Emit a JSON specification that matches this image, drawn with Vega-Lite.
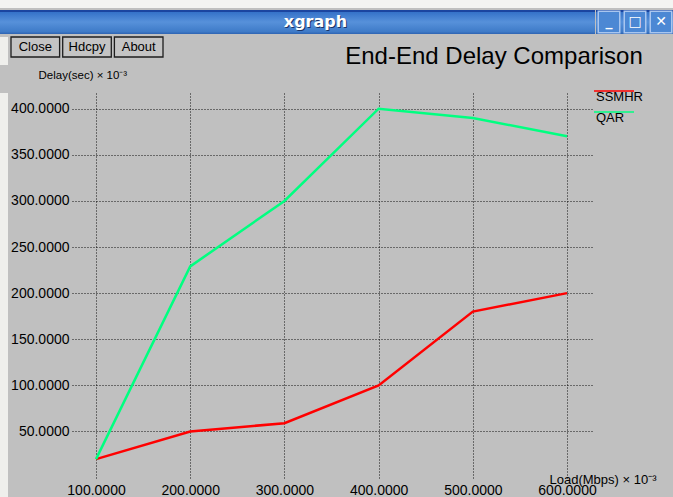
{
  "$schema": "https://vega.github.io/schema/vega-lite/v6.json",
  "background": "#c0c0c0",
  "padding": 0,
  "spacing": 0,
  "config": {
    "view": {"stroke": null},
    "font": "Liberation Sans",
    "concat": {"spacing": 0},
    "axis": {"labelFont": "Liberation Sans", "titleFont": "Liberation Sans", "titleFontWeight": "normal", "labelColor": "#000", "titleColor": "#000"}
  },
  "vconcat": [
    {
      "width": 673, "height": 8,
      "view": {"fill": "#f4f4f2", "stroke": null},
      "data": {"values": [{"k": 1}]},
      "mark": {"type": "rect", "fill": "#f4f4f2"},
      "encoding": {}
    },
    {
      "spacing": 0,
      "hconcat": [
        {
          "width": 595, "height": 24,
          "data": {"values": [{"label": "xgraph"}]},
          "layer": [
            {
              "mark": {"type": "rect", "color": {"gradient": "linear", "x1": 0, "y1": 0, "x2": 0, "y2": 1,
                "stops": [{"offset": 0, "color": "#1b45a0"}, {"offset": 0.07, "color": "#1b45a0"}, {"offset": 0.1, "color": "#3673c9"}, {"offset": 0.5, "color": "#5791da"}, {"offset": 0.9, "color": "#3f7bc8"}, {"offset": 1, "color": "#2d63b2"}]}},
              "encoding": {}
            },
            {
              "mark": {"type": "text", "font": "DejaVu Sans", "fontWeight": "bold", "fontSize": 16, "color": "#1a3468", "dx": 19, "dy": 1},
              "encoding": {"text": {"field": "label"}}
            },
            {
              "mark": {"type": "text", "font": "DejaVu Sans", "fontWeight": "bold", "fontSize": 16, "color": "#ffffff", "dx": 18},
              "encoding": {"text": {"field": "label"}}
            }
          ]
        },
        {
          "width": 78, "height": 24,
          "data": {"values": [{"icon": "min", "g": "_"}, {"icon": "max", "g": "□"}, {"icon": "close", "g": "✕"}]},
          "layer": [
            {
              "mark": {"type": "rect", "color": {"gradient": "linear", "x1": 0, "y1": 0, "x2": 0, "y2": 1,
                "stops": [{"offset": 0, "color": "#1b45a0"}, {"offset": 0.07, "color": "#1b45a0"}, {"offset": 0.1, "color": "#3673c9"}, {"offset": 0.5, "color": "#5791da"}, {"offset": 0.9, "color": "#3f7bc8"}, {"offset": 1, "color": "#2d63b2"}]}},
              "encoding": {}
            },
            {
              "mark": {"type": "square", "size": 462, "fill": "#4c88d4", "stroke": "#a9c6ef", "strokeWidth": 1.5, "opacity": 1},
              "encoding": {"x": {"field": "icon", "type": "nominal", "sort": null, "scale": {"paddingInner": 0.08, "paddingOuter": 0.04}, "axis": null}}
            },
            {
              "mark": {"type": "text", "font": "DejaVu Sans", "fontWeight": "bold", "fontSize": 14, "color": "#ffffff"},
              "encoding": {"x": {"field": "icon", "type": "nominal", "sort": null, "axis": null}, "text": {"field": "g"}}
            }
          ]
        }
      ]
    },
    {
      "spacing": 2,
      "hconcat": [
        {
          "width": 8, "height": 28,
          "view": {"fill": "#efefec", "stroke": null},
          "data": {"values": [{"k": 1}]},
          "mark": {"type": "rect", "fill": "#efefec"},
          "encoding": {}
        },
        {
          "width": 152, "height": 20,
          "data": {"values": [{"b": "Close"}, {"b": "Hdcpy"}, {"b": "About"}]},
          "layer": [
            {
              "mark": {"type": "rect", "fill": "#c4c4c4", "stroke": "#1e1e1e", "strokeWidth": 1.3},
              "encoding": {
                "x": {"field": "b", "type": "nominal", "sort": null, "scale": {"paddingInner": 0.06, "paddingOuter": 0}, "axis": null},
                "y": {"datum": "row", "type": "nominal", "scale": {"paddingInner": 0, "paddingOuter": 0}, "axis": null}
              }
            },
            {
              "mark": {"type": "text", "fontSize": 13, "color": "#000"},
              "encoding": {
                "x": {"field": "b", "type": "nominal", "sort": null, "axis": null},
                "y": {"datum": "row", "type": "nominal", "axis": null},
                "text": {"field": "b"}
              }
            }
          ]
        },
        {
          "width": 509, "height": 28,
          "data": {"values": [{"t": "End-End Delay Comparison"}]},
          "mark": {"type": "text", "fontSize": 24, "color": "#000", "dx": 73.5, "dy": 6},
          "encoding": {"text": {"field": "t"}}
        }
      ]
    },
    {
      "spacing": 2,
      "hconcat": [
        {
          "width": 8, "height": 436,
          "view": {"fill": "#efefec", "stroke": null},
          "data": {"values": [{"k": 1}]},
          "mark": {"type": "rect", "fill": "#efefec"},
          "encoding": {}
        },
        {
          "width": 520, "height": 386,
          "data": {"values": [
            {"load": 100, "delay": 20, "protocol": "SSMHR"},
            {"load": 200, "delay": 50, "protocol": "SSMHR"},
            {"load": 300, "delay": 59, "protocol": "SSMHR"},
            {"load": 400, "delay": 100, "protocol": "SSMHR"},
            {"load": 500, "delay": 180, "protocol": "SSMHR"},
            {"load": 600, "delay": 200, "protocol": "SSMHR"},
            {"load": 100, "delay": 20, "protocol": "QAR"},
            {"load": 200, "delay": 229, "protocol": "QAR"},
            {"load": 300, "delay": 300, "protocol": "QAR"},
            {"load": 400, "delay": 400, "protocol": "QAR"},
            {"load": 500, "delay": 390, "protocol": "QAR"},
            {"load": 600, "delay": 370, "protocol": "QAR"}
          ]},
          "mark": {"type": "line", "strokeWidth": 2.5},
          "encoding": {
            "x": {
              "field": "load", "type": "quantitative",
              "scale": {"domain": [74.5, 626.5], "nice": false, "zero": false},
              "axis": {
                "values": [100, 200, 300, 400, 500, 600], "format": ".4f",
                "grid": true, "gridDash": [1, 2], "gridColor": "#000", "gridOpacity": 0.9, "gridWidth": 1,
                "ticks": false, "domain": false, "labelFontSize": 14, "labelPadding": 4, "labelFlush": false,
                "title": "Load(Mbps) × 10⁻³", "titleFontSize": 13, "titleX": 477, "titleY": 0,
                "titleAlign": "left", "titleBaseline": "middle"
              }
            },
            "y": {
              "field": "delay", "type": "quantitative",
              "scale": {"domain": [-1.5, 417], "nice": false, "zero": false},
              "axis": {
                "values": [50, 100, 150, 200, 250, 300, 350, 400], "format": ".4f",
                "grid": true, "gridDash": [1, 2], "gridColor": "#000", "gridOpacity": 0.9, "gridWidth": 1,
                "ticks": false, "domain": false, "labelFontSize": 14, "labelPadding": 3,
                "title": "Delay(sec) × 10⁻³", "titleFontSize": 11.5, "titleAngle": 0, "titleX": -34, "titleY": -18,
                "titleAlign": "left", "titleBaseline": "middle"
              }
            },
            "color": {
              "field": "protocol", "type": "nominal",
              "scale": {"domain": ["SSMHR", "QAR"], "range": ["#ff0000", "#00ff80"]},
              "legend": {
                "title": null, "orient": "none", "legendX": 593, "legendY": 83,
                "symbolType": "stroke", "symbolSize": 1600, "symbolStrokeWidth": 1.5,
                "clipHeight": 16, "labelOffset": -39, "labelBaseline": "top",
                "labelFont": "Liberation Sans", "labelFontSize": 13, "labelColor": "#000",
                "padding": 0, "rowPadding": 0
              }
            }
          }
        }
      ]
    }
  ]
}
